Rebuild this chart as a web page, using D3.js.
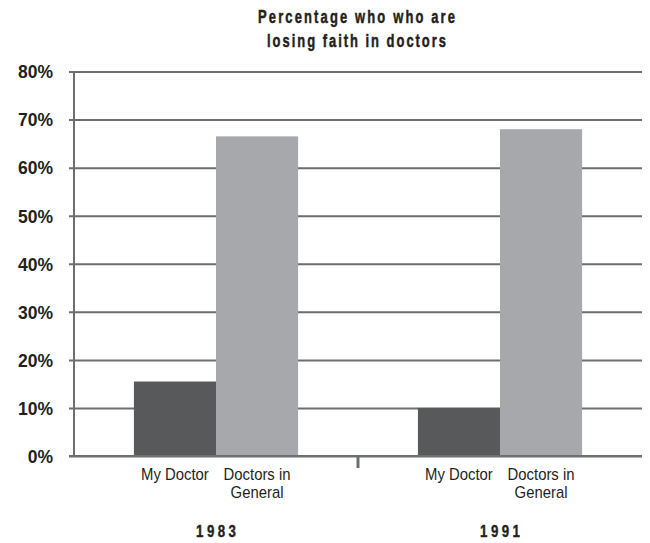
<!DOCTYPE html>
<html>
<head>
<meta charset="utf-8">
<script src="https://cdn.jsdelivr.net/npm/d3@7"></script>
<style>
  html, body { margin: 0; padding: 0; background: #fff; }
  svg { display: block; }
  text { font-family: "Liberation Sans", Arial, Helvetica, sans-serif; }
</style>
</head>
<body>
<svg id="chart" width="650" height="543"></svg>
<script>
// Survey years (groups) and the two questions asked (series)
const years = ["1983", "1991"];
const seriesNames = ["My Doctor", "Doctors in General"];
const seriesLabelLines = [["My Doctor"], ["Doctors in", "General"]];
// Percentage losing faith, per year
const myDoctor = [15.5, 10];
const doctorsInGeneral = [66.5, 68];
const yTicks = [0, 10, 20, 30, 40, 50, 60, 70, 80];
const titleLines = ["Percentage who who are", "losing faith in doctors"];

const seriesColors = ["#58595b", "#a7a8ab"];
const gridColor = "#6d6e70";
const textColor = "#231f20";

const svg = d3.select("#chart");
const plot = { left: 74, right: 642, top: 71.5, bottom: 456 };

const x0 = d3.scaleBand().domain(years).range([plot.left, plot.right]).padding(0);
const x1 = d3.scaleBand().domain(seriesNames).range([0, x0.bandwidth()])
  .paddingInner(0).paddingOuter(0.73);
const y = d3.scaleLinear().domain([0, 80]).range([plot.bottom, plot.top]);

// Centered, horizontally condensed text, optionally spaced out to a given width
function condensed(parent, cx, cy, str, opts) {
  const sx = opts.sx || 1;
  const g = parent.append("g").attr("transform", `translate(${cx},${cy}) scale(${sx},1)`);
  const t = g.append("text")
    .attr("text-anchor", "middle")
    .attr("font-size", opts.size)
    .attr("font-weight", opts.weight || "normal")
    .attr("fill", textColor)
    .text(str);
  if (opts.stroke) t.attr("stroke", textColor).attr("stroke-width", opts.stroke);
  if (opts.width) t.attr("textLength", opts.width / sx).attr("lengthAdjust", "spacing");
  return t;
}

// Title
const titleWidths = [197, 179];
titleLines.forEach((line, i) => {
  condensed(svg, 356.5, 23 + i * 24, line, { size: 18.5, weight: "bold", sx: 0.7, width: titleWidths[i], stroke: 0.5 });
});

// Horizontal gridlines with short ticks to the left of the axis
const yAxis = d3.axisLeft(y).tickValues(yTicks)
  .tickSize(-(plot.right - plot.left)).tickSizeOuter(0)
  .tickFormat(d => d + "%").tickPadding(12);
const gy = svg.append("g").attr("transform", `translate(${plot.left},0)`).call(yAxis);
gy.select(".domain").remove();
gy.selectAll(".tick line")
  .attr("x1", -5)
  .attr("stroke", gridColor).attr("stroke-width", 2);
gy.selectAll(".tick text")
  .attr("font-family", "'Liberation Sans', Arial, sans-serif")
  .attr("font-size", 17.5)
  .attr("font-weight", "bold")
  .attr("fill", textColor)
  .attr("dy", "0.36em")
  .attr("x", -21);

// Vertical axis line
svg.append("line")
  .attr("x1", plot.left).attr("x2", plot.left)
  .attr("y1", y(80)).attr("y2", y(0))
  .attr("stroke", gridColor).attr("stroke-width", 2);

// Bars
const rows = years.map((yr, i) => ({ year: yr, values: [myDoctor[i], doctorsInGeneral[i]] }));
const groups = svg.append("g").selectAll("g").data(rows).join("g")
  .attr("transform", d => `translate(${x0(d.year)},0)`);
groups.selectAll("rect")
  .data(d => d.values.map((v, j) => ({ key: seriesNames[j], value: v, j })))
  .join("rect")
  .attr("x", d => x1(d.key))
  .attr("width", x1.bandwidth())
  .attr("y", d => y(d.value))
  .attr("height", d => y(0) - y(d.value))
  .attr("fill", d => seriesColors[d.j]);

// Baseline drawn over the bars
svg.append("line")
  .attr("x1", plot.left - 5).attr("x2", plot.right)
  .attr("y1", y(0)).attr("y2", y(0))
  .attr("stroke", gridColor).attr("stroke-width", 2);

// Separator tick between the two year groups
svg.append("line")
  .attr("x1", x0("1991")).attr("x2", x0("1991"))
  .attr("y1", y(0)).attr("y2", y(0) + 12)
  .attr("stroke", gridColor).attr("stroke-width", 3);

// Series labels under each bar, then the year label
groups.each(function (d) {
  const g = d3.select(this);
  seriesNames.forEach((s, j) => {
    const cx = x1(s) + x1.bandwidth() / 2;
    seriesLabelLines[j].forEach((line, k) => {
      condensed(g, cx, 480 + k * 18, line, { size: 16, sx: 0.93 });
    });
  });
  condensed(g, x0.bandwidth() / 2, 537, d.year, { size: 17, weight: "bold", sx: 0.78, width: 40, stroke: 0.4 });
});
</script>
</body>
</html>
